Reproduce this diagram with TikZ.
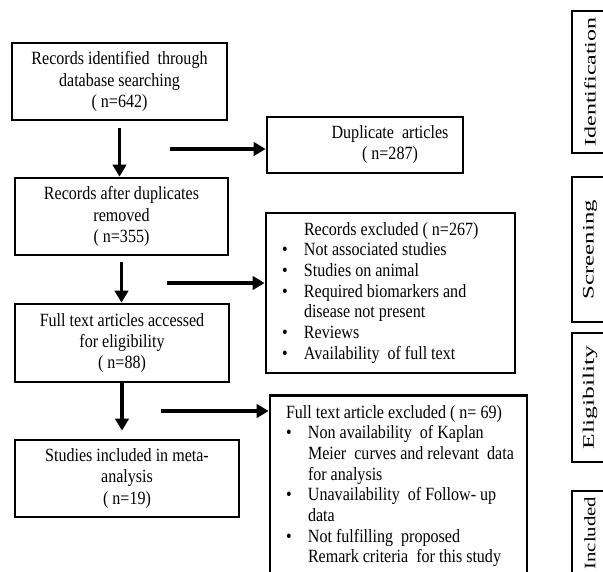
\documentclass[tikz,border=0pt]{standalone}
\usepackage{fontspec}
\setmainfont{Liberation Serif}[FakeStretch=0.86]
\newfontfamily\sidefont{Liberation Serif}
\usepackage{tikz}
\usetikzlibrary{arrows.meta}

\newcommand{\bul}{\makebox[16.5pt][l]{\textbullet}}
\newcommand{\ind}{\hspace*{16.5pt}}
\newcommand{\sidetext}[2][1.5]{\rotatebox{90}{\sidefont\fontsize{12}{14}\selectfont\scalebox{#1}[1]{#2}}}
\newcommand{\listbox}[2]{\makebox[#1][l]{\begin{tabular}{@{}l@{}}#2\end{tabular}}}

\begin{document}
\begin{tikzpicture}
	[x=0.75pt,y=-0.75pt,->,>={Triangle[length=9pt,width=10pt]},line width=2.6pt,
		font=\fontsize{14}{16}\selectfont,
		base node/.style={rectangle,draw,line width=2pt,align=center,inner sep=0pt},
		list node/.style={base node,inner xsep=12pt,inner ysep=0pt,font=\fontsize{14}{15.5}\selectfont},
		side node/.style={base node,minimum width=27pt}]

	\clip (0,0) rectangle (603,571);

	\node[base node, minimum width=161.25pt, minimum height=57.75pt] (records) at (119.5,81.5) {Records identified\ \ through\\database searching\\( n=642)};
	\node[base node, minimum width=159.75pt, minimum height=57.75pt] (dedup) at (121.5,216.5) {Records after duplicates\\removed\\( n=355)};
	\node[base node, minimum width=160.5pt, minimum height=58.5pt] (fulltext) at (122,343) {Full text articles accessed\\for eligibility\\( n=88)};
	\node[base node, minimum width=168pt, minimum height=57.75pt] (included) at (127,478.5) {Studies included in meta-\\analysis\\( n=19)};

	\node[base node, minimum width=147pt, minimum height=42pt] (dupl) at (365,145) {\hspace*{37.5pt}\begin{tabular}{@{}c@{}}Duplicate\ \ articles\\( n=287)\end{tabular}};
	\node[list node, minimum height=120pt] (excl1) at (390.5,293) {\listbox{162.75pt}{\ind Records excluded ( n=267)\\ \bul Not associated studies\\ \bul Studies on animal\\ \bul Required biomarkers and\\ \ind disease not present\\ \bul Reviews\\ \bul Availability\ \ of full text}};
	\node[list node, minimum height=137pt] (excl2) at (398.5,486.5) {\listbox{168.75pt}{Full text article excluded ( n= 69)\\ \bul Non availability\ \ of Kaplan\\ \ind Meier\ \ curves and relevant\ \ data\\ \ind for analysis\\ \bul Unavailability\ \ of Follow- up\\ \ind data\\ \bul Not fulfilling\ \ proposed\\ \ind Remark criteria\ \ for this study}};

	% phases on the right
	\node[side node, minimum height=106.5pt] (ident) at (590,82) {\sidetext{Identification}};
	\node[side node, minimum height=108.75pt] (screen) at (590,249.5) {\sidetext[1.55]{Screening}};
	\node[side node, minimum height=96.75pt] (elig) at (590,397.5) {\sidetext[1.6]{Eligibility}};
	\node[side node, minimum height=63pt] (incl) at (590,533) {\sidetext[1.3]{Included}};

	\coordinate (dup in) at (170,149);
	\coordinate (excl1 in) at (167,283);
	\coordinate (excl2 in) at (161,411);

	\path[]
	(records.south) edge [shorten <=5pt] (records.south |- dedup.north)
	(dedup.south) edge [shorten <=4pt] (dedup.south |- fulltext.north)
	(fulltext.south) edge [shorten >=6pt] (fulltext.south |- included.north)
	(dup in) edge (dup in -| dupl.west)
	(excl1 in) edge (excl1 in -| excl1.west)
	(excl2 in) edge (excl2 in -| excl2.west)
	;

\end{tikzpicture}
\end{document}
